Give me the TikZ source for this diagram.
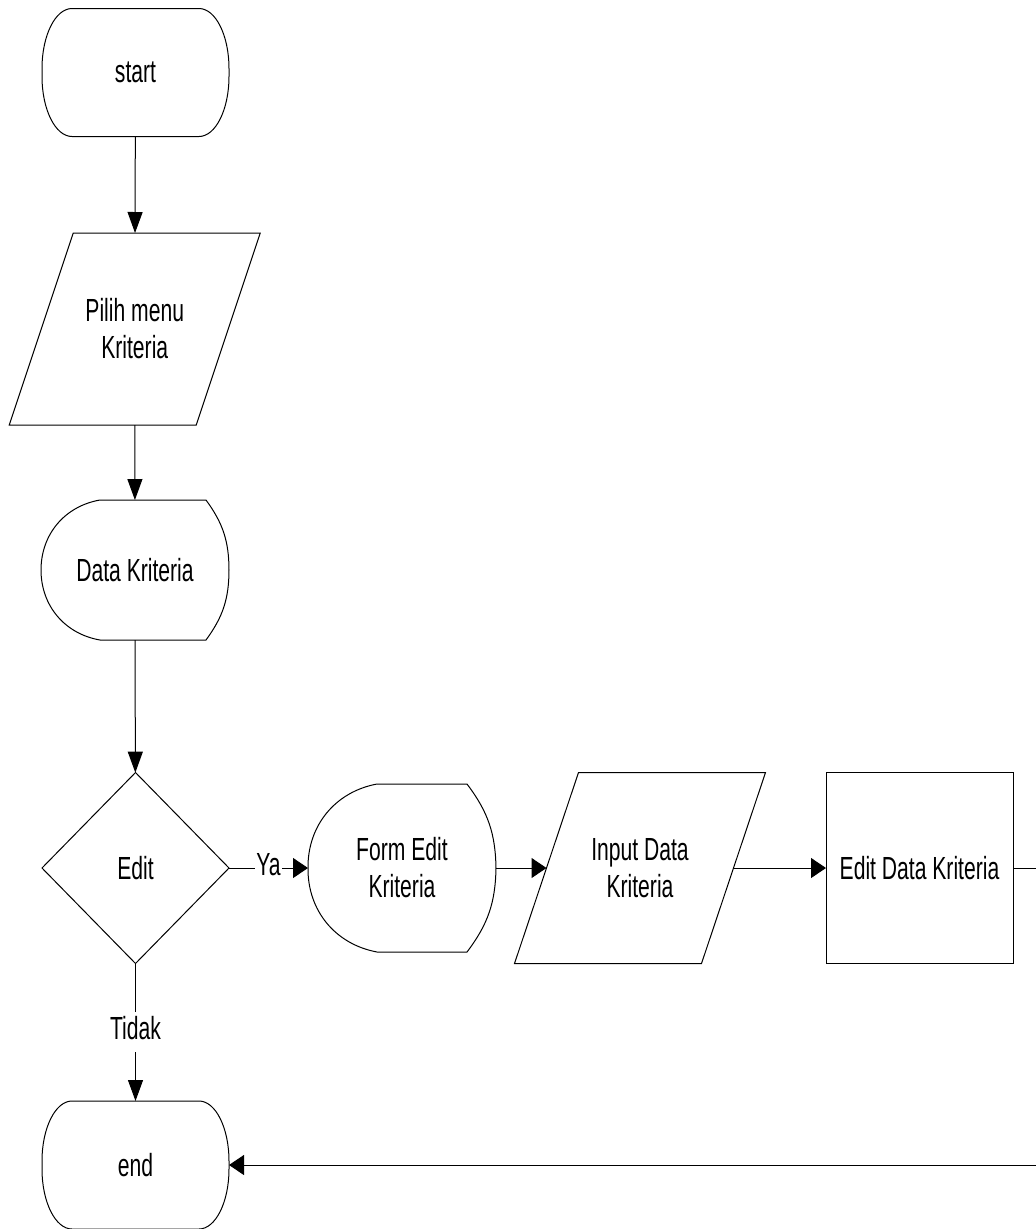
\documentclass[tikz,border=0pt]{standalone}
\usepackage{fontspec}
\setmainfont{Liberation Sans}[FakeStretch=0.66]
\usetikzlibrary{shapes.geometric,arrows.meta}
\begin{document}
\begin{tikzpicture}[x=1pt, y=-1pt, line width=1pt,
  base/.style={font=\fontsize{32}{37}\selectfont, align=center, inner sep=0pt, outer sep=0pt},
  terminal/.style={base, minimum width=187pt, minimum height=128pt,
    append after command={\pgfextra{\draw ([xshift=30pt]\tikzlastnode.north west)
      -- ([xshift=-30pt]\tikzlastnode.north east)
      arc[start angle=90, end angle=0, x radius=30pt, y radius=60pt]
      -- ([yshift=60pt]\tikzlastnode.south east)
      arc[start angle=0, end angle=-90, x radius=30pt, y radius=60pt]
      -- ([xshift=30pt]\tikzlastnode.south west)
      arc[start angle=270, end angle=180, x radius=30pt, y radius=60pt]
      -- ([yshift=-60pt]\tikzlastnode.north west)
      arc[start angle=180, end angle=90, x radius=30pt, y radius=60pt] -- cycle;}}},
  display/.style 2 args={base, minimum width=188pt,
    append after command={\pgfextra{\draw ([xshift=#1]\tikzlastnode.north west)
      -- ([xshift=-#2]\tikzlastnode.north east)
      to[bend left=18] (\tikzlastnode.east)
      to[bend left=18] ([xshift=-#2]\tikzlastnode.south east)
      -- ([xshift=#1]\tikzlastnode.south west)
      to[bend left=40] (\tikzlastnode.west)
      to[bend left=40] ([xshift=#1]\tikzlastnode.north west) -- cycle;}}},
  io/.style={base, minimum width=187pt, minimum height=192pt,
    append after command={\pgfextra{\draw ([xshift=32pt]\tikzlastnode.north west)
      -- ([xshift=32pt]\tikzlastnode.north east)
      -- ([xshift=-32pt]\tikzlastnode.south east)
      -- ([xshift=-32pt]\tikzlastnode.south west) -- cycle;}}},
  decision/.style={base, draw, diamond, minimum width=187pt, minimum height=191pt},
  process/.style={base, draw, minimum width=187pt, minimum height=191pt},
  lbl/.style={base, fill=white, inner xsep=1pt, inner ysep=4pt, text height=23pt, text depth=9pt},
  varr/.style={-{Triangle[length=21pt,width=15pt]}},
  harr/.style={-{Triangle[length=15pt,width=20pt]}}]
\useasboundingbox (0,0) rectangle (1036,1229);
% left column
\node[terminal] (start) at (135.5,72.5) {start};
\node[io] (pilih) at (134.75,329) {Pilih menu\\Kriteria};
\node[display={59pt}{23pt}, minimum height=140pt] (data) at (135,570) {Data Kriteria};
\node[decision] (edit) at (135.5,868) {Edit};
\node[terminal] (selesai) at (135.5,1165) {end};
% row of edit
\node[display={69pt}{29pt}, minimum height=168pt] (form) at (402,868) {Form Edit\\Kriteria};
\node[io, minimum height=191pt] (input) at (640,868) {Input Data\\Kriteria};
\node[process] (proses) at (919.5,868) {Edit Data Kriteria};
\coordinate (balik) at (1060,868);
% connectors
\draw[varr] (start) -- (pilih);
\draw[varr] (pilih) -- (data);
\draw[varr] (data) -- (edit);
\draw[harr] (edit.east) -- node[lbl] {Ya} (form.west);
\draw[varr] (edit.south) -- node[lbl] {Tidak} (selesai.north);
\draw[harr] (form.east) -- (input.west);
\draw[harr] (input.east) -- (proses.west);
\draw[harr] (proses.east) -- (balik) |- (selesai.east);
\end{tikzpicture}
\end{document}
